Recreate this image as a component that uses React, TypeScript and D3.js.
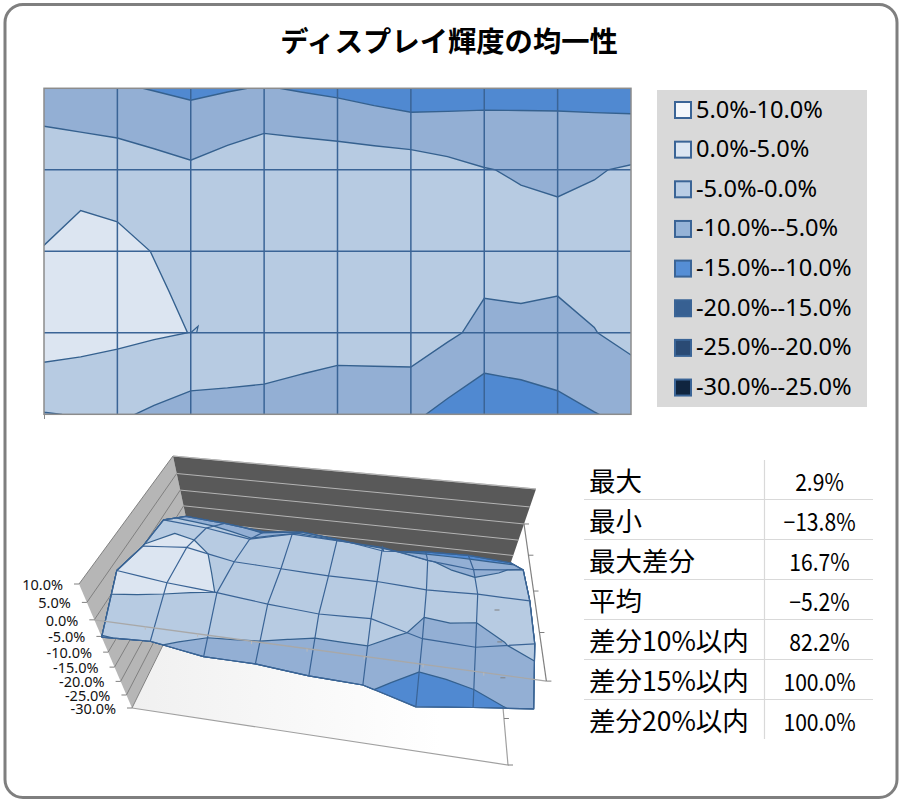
import React from 'react';
import * as d3 from 'd3';

const titleText = 'ディスプレイ輝度の均一性';
// node values (%) rows from back/top to front/bottom
const row0 = [-8.5, -9.46, -11, -9.7, -11.1, -13.2, -11.9, -11.5, -12.5];
const row1 = [-1, -2.15, -4.2, -1.2, -1.7, -2.3, -4.8, -6.1, -4.5];
const row2 = [0.08, 1.22, -1.5, -2, -2.5, -2.5, -3.3, -2.8, -3];
const row3 = [2.93, 1.09, -0.05, -1.6, -2.67, -2.1, -6.25, -6.8, -3.5];
const row4 = [-5.2, -4.37, -7, -7, -8.5, -9, -13.8, -11.3, -9];
const rows = [row0, row1, row2, row3, row4];
// cell centres that differ from the mean of their corners: [col, row, value]
const centreOverrides: [number, number, number][] = [[0, 1, 0.0], [1, 2, 0.55], [6, 2, -4.4]];
const spur: [number, number][] = [[2, 3], [2.1, 2.92], [2.08, 3]];

const legendLabels = ['5.0%-10.0%', '0.0%-5.0%', '-5.0%-0.0%', '-10.0%--5.0%', '-15.0%--10.0%', '-20.0%--15.0%', '-25.0%--20.0%', '-30.0%--25.0%'];
const legendColors = ['#f4f7fb', '#dce6f2', '#b9cde5', '#95b3d7', '#558ed5', '#376092', '#2a4a74', '#10253f'];
const bandThresholds = [-100, -10, -5, 0];
const bandColors = ['#5089d1', '#93afd4', '#b7cbe2', '#dce5f1'];
const zTicks = [10, 5, 0, -5, -10, -15, -20, -25, -30];
const tableLabels = ['最大', '最小', '最大差分', '平均', '差分10%以内', '差分15%以内', '差分20%以内'];
const tableValues = ['2.9%', '−13.8%', '16.7%', '−5.2%', '82.2%', '100.0%', '100.0%'];

type P = [number, number];
const nc = 9, nr = 5;
const dx = 2 * nc - 1, dy = 2 * nr - 1;
const fine: number[] = new Array(dx * dy);
for (let j = 0; j < dy; j++) for (let i = 0; i < dx; i++) {
  const c0 = Math.floor(i / 2), c1 = Math.ceil(i / 2), r0 = Math.floor(j / 2), r1 = Math.ceil(j / 2);
  fine[j * dx + i] = (rows[r0][c0] + rows[r0][c1] + rows[r1][c0] + rows[r1][c1]) / 4;
}
centreOverrides.forEach(([c, r, v]) => { fine[(2 * r + 1) * dx + 2 * c + 1] = v; });

const surfaceZ = (gx: number, gy: number) => {
  const i = Math.min(Math.floor(gx), dx - 2), j = Math.min(Math.floor(gy), dy - 2);
  const a = gx - i, b = gy - j;
  const v = (p: number, q: number) => fine[q * dx + p];
  return (1 - a) * (1 - b) * v(i, j) + a * (1 - b) * v(i + 1, j) + (1 - a) * b * v(i, j + 1) + a * b * v(i + 1, j + 1);
};

const contourGen = d3.contours().size([dx, dy]).smooth(true);
const bands = bandThresholds.map((t) => contourGen.contour(fine, t));

// 2D scales
const xS = d3.scaleLinear().domain([0, 8]).range([44, 631]);
const yS = d3.scaleLinear().domain([0, 4]).range([88.3, 414.3]);
const fx = d3.scaleLinear().domain([0.5, dx - 0.5]).range(xS.range());
const fy = d3.scaleLinear().domain([0.5, dy - 0.5]).range(yS.range());
const line = d3.line<P>();

// 3D projection: box corners on screen [back-left, back-right, front-right, front-left]
const topQuad: P[] = [[173, 456], [536, 489], [562, 647], [79, 584]];
const botQuad: P[] = [[198, 574], [494.5, 610], [508, 765], [132, 708]];
const homography = (q: P[]) => {
  const [[x0, y0], [x1, y1], [x2, y2], [x3, y3]] = q;
  const dx1 = x1 - x2, dx2 = x3 - x2, sx = x0 - x1 + x2 - x3;
  const dy1 = y1 - y2, dy2 = y3 - y2, sy = y0 - y1 + y2 - y3;
  const den = dx1 * dy2 - dx2 * dy1;
  const g = (sx * dy2 - dx2 * sy) / den, h = (dx1 * sy - sx * dy1) / den;
  const a = x1 - x0 + g * x1, b = x3 - x0 + h * x3, d = y1 - y0 + g * y1, e = y3 - y0 + h * y3;
  return (u: number, v: number): P => {
    const w = g * u + h * v + 1;
    return [(a * u + b * v + x0) / w, (d * u + e * v + y0) / w];
  };
};
const hTop = homography(topQuad), hBot = homography(botQuad);
const zT = d3.scaleLinear().domain([10, -30]).range([0, 1]);
const K = 0.82;
const project = (u: number, v: number, z: number): P => {
  const t = zT(z), s = t / (t + K * (1 - t));
  const a = hTop(u, v), b = hBot(u, v);
  return [a[0] + (b[0] - a[0]) * s, a[1] + (b[1] - a[1]) * s];
};
const uOf = d3.scaleLinear().domain([0, 8]).range([0, 1]);
const vOf = d3.scaleLinear().domain([0, 4]).range([0, 1]);
const clampC = (c: number, n: number) => Math.max(0.5, Math.min(n - 0.5, c));
const project3 = (c: number[]): P => {
  const cx = clampC(c[0], dx), cy = clampC(c[1], dy);
  const gx = cx - 0.5, gy = cy - 0.5;
  return project(gx / (dx - 1), gy / (dy - 1), surfaceZ(gx, gy));
};
const ringPath = (polys: number[][][][], map: (c: number[]) => P) =>
  polys.map((poly) => poly.map((ring) => line(ring.map(map)) + 'Z').join('')).join('');
const map2 = (c: number[]): P => [fx(c[0]), fy(c[1])];

const poly = (pts: P[]) => line(pts) + 'Z';
const node3 = (gx: number, gy: number) => project(gx / (dx - 1), gy / (dy - 1), surfaceZ(gx, gy));
const colLines = d3.range(nc).map((c) => line(d3.range(dy).map((g) => node3(2 * c, g))) as string);
const rowLines = d3.range(nr).map((r) => line(d3.range(dx).map((g) => node3(g, 2 * r))) as string);

const blue = '#3a6496';
const wall = (u0: number, v0: number, u1: number, v1: number, z: number) => [project(u0, v0, z), project(u1, v1, z)];

export default function App() {
  return (
    <svg width={902} height={802} style={{ position: 'absolute', left: 0, top: 0, fontFamily: '"Noto Sans", sans-serif' }}>
      <defs>
        <clipPath id="plot"><rect x={44} y={88.3} width={587} height={326} /></clipPath>
        <linearGradient id="floor" gradientUnits="userSpaceOnUse" x1={132} y1={708} x2={440} y2={708}>
          <stop offset="0" stopColor="#f0f0f0" /><stop offset="1" stopColor="#ffffff" />
        </linearGradient>
      </defs>
      <rect x={5} y={4.5} width={892} height={793} rx={18} fill="#fff" stroke="#7f7f7f" strokeWidth={3} />
      <text x={449} y={52} textAnchor="middle" fontSize={28.3} fontWeight={700} style={{ fontFamily: '"Noto Sans CJK JP"' }}>{titleText}</text>

      {/* contour */}
      <g clipPath="url(#plot)">
        {bands.map((b, i) => (
          <path key={i} d={ringPath(b.coordinates as any, map2)} fill={bandColors[i]} fillRule="evenodd" stroke="#35618f" strokeWidth={1.4} />
        ))}
        {d3.range(1, 8).map((c) => <line key={c} x1={xS(c)} x2={xS(c)} y1={yS(0)} y2={yS(4)} stroke={blue} strokeWidth={1.5} />)}
        {d3.range(1, 4).map((r) => <line key={r} x1={xS(0)} x2={xS(8)} y1={yS(r)} y2={yS(r)} stroke={blue} strokeWidth={1.5} />)}
        <path d={line(spur.map(([c, r]) => [xS(c), yS(r)] as P)) as string} fill="none" stroke="#35618f" strokeWidth={1.2} />
      </g>
      <rect x={44} y={88.3} width={587} height={326} fill="none" stroke="#8c8c8c" strokeWidth={1.5} />
      <line x1={44.5} x2={44.5} y1={414} y2={419} stroke="#8c8c8c" strokeWidth={1} />

      {/* legend */}
      <rect x={657} y={90} width={210} height={317} fill="#d9d9d9" />
      {legendLabels.map((l, i) => {
        const cy = 110 + i * 39.65;
        return (
          <g key={l}>
            <rect x={675} y={cy - 8} width={16} height={16} fill={legendColors[i]} stroke={blue} strokeWidth={2} />
            <text x={696} y={cy + 7.5} fontSize={23.6} fill="#000">{l}</text>
          </g>
        );
      })}

      {/* 3D frame */}
      <path d={poly([topQuad[3], topQuad[0], botQuad[0], botQuad[3]])} fill="#b6b6b6" />
      <path d={poly([topQuad[0], topQuad[1], botQuad[1], botQuad[0]])} fill="#595959" />
      <path d={poly([botQuad[3], botQuad[0], botQuad[1], botQuad[2]])} fill="url(#floor)" />
      <path d={line([botQuad[3], botQuad[2], botQuad[1]]) as string} fill="none" stroke="#a0a0a0" strokeWidth={1.2} />
      <path d={line([topQuad[0], topQuad[1]]) as string} fill="none" stroke="#b0b0b0" strokeWidth={1.2} />
      {zTicks.map((z) => {
        const [a, b] = wall(0, 0, 1, 0, z);
        const [c, d] = wall(0, 1, 0, 0, z);
        return (
          <g key={z}>
            <line x1={a[0]} y1={a[1]} x2={b[0]} y2={b[1]} stroke="#b4b4b4" strokeWidth={1} />
            <line x1={c[0]} y1={c[1]} x2={d[0]} y2={d[1]} stroke="#808080" strokeWidth={1} />
            <line x1={c[0] - 5} y1={c[1]} x2={c[0]} y2={c[1]} stroke="#808080" strokeWidth={1} />
            <text x={c[0] - 16} y={c[1] + 6} textAnchor="end" fontSize={14.5} fill="#111">{`${z.toFixed(1)}%`}</text>
          </g>
        );
      })}
      {/* 3D surface */}
      {bands.map((b, i) => (
        <path key={i} d={ringPath(b.coordinates as any, project3)} fill={bandColors[i]} fillRule="evenodd" stroke="#35618f" strokeWidth={1.2} strokeLinejoin="round" />
      ))}
      {colLines.map((d, i) => <path key={i} d={d} fill="none" stroke={blue} strokeWidth={1.2} />)}
      {rowLines.map((d, i) => <path key={i} d={d} fill="none" stroke={blue} strokeWidth={1.2} />)}
      {/* axes at z = 0 */}
      {(() => {
        const fl = project(0, 1, 0), fr = project(1, 1, 0), br = project(1, 0, 0);
        return (
          <g>
            <line x1={fl[0]} y1={fl[1]} x2={fr[0]} y2={fr[1]} stroke="#a8a8a8" strokeWidth={1.3} />
            <line x1={br[0]} y1={br[1]} x2={fr[0]} y2={fr[1]} stroke="#808080" strokeWidth={1.2} />
            {d3.range(nr).map((r) => { const p = project(1, vOf(r), 0); return <line key={r} x1={p[0]} y1={p[1]} x2={p[0] + 5} y2={p[1]} stroke="#808080" />; })}
            {d3.range(1, nc - 1).map((c) => { const p = project(uOf(c), 1, 0); return <line key={c} x1={p[0]} y1={p[1]} x2={p[0]} y2={p[1] + 3} stroke="#bbb" />; })}
            {d3.range(nr).map((r) => { const p = project(1, vOf(r), -30); return <line key={r} x1={p[0]} y1={p[1]} x2={p[0] + 5} y2={p[1]} stroke="#808080" />; })}
          </g>
        );
      })()}

      {/* table */}
      <line x1={764.5} x2={764.5} y1={460} y2={739} stroke="#d9d9d9" strokeWidth={1.2} />
      {d3.range(1, 7).map((i) => <line key={i} x1={584} x2={873} y1={459.5 + i * 40} y2={459.5 + i * 40} stroke="#d9d9d9" strokeWidth={1.2} />)}
      {tableLabels.map((l, i) => (
        <text key={l} x={589} y={491 + i * 40} fontSize={26.5} fill="#000" style={{ fontFamily: '"Noto Sans CJK JP"' }}>{l}</text>
      ))}
      {tableValues.map((v, i) => (
        <text key={i} transform={`translate(819.5,${490.5 + i * 40}) scale(0.88,1)`} textAnchor="middle" fontSize={24} fill="#000" style={{ fontFamily: '"Noto Sans CJK JP"' }}>{v}</text>
      ))}
    </svg>
  );
}
